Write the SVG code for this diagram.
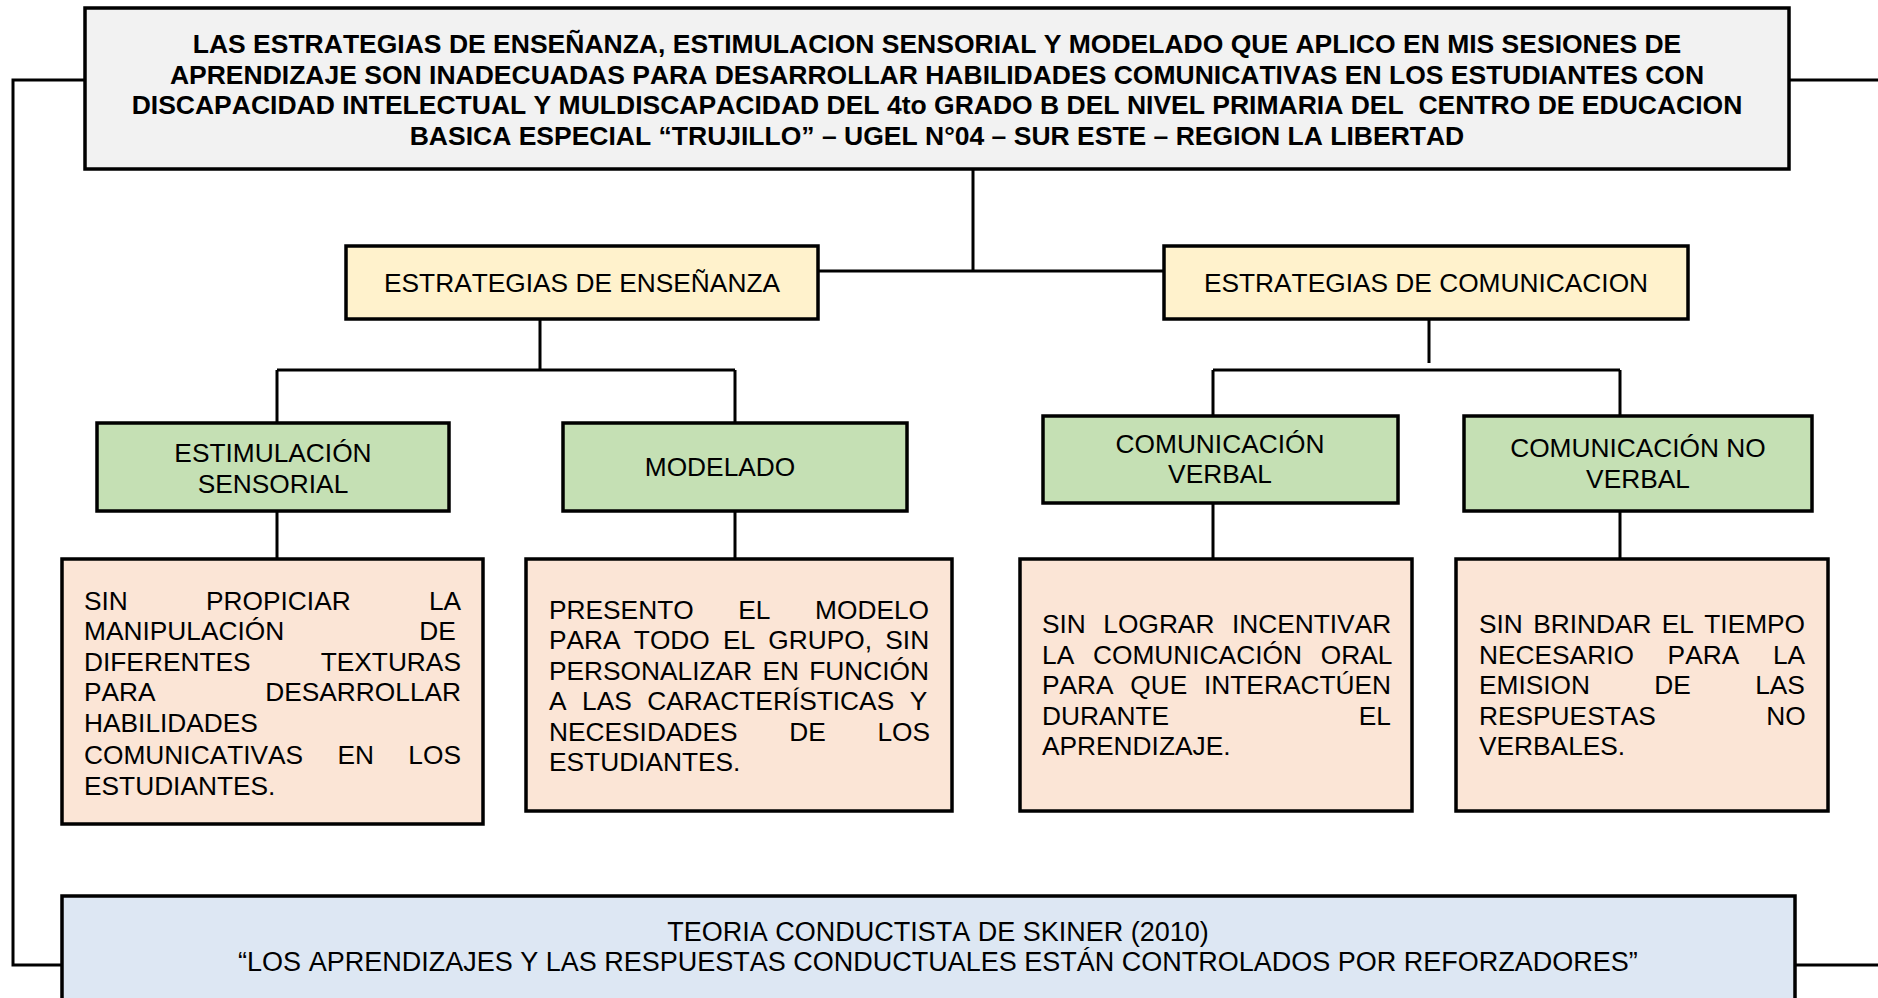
<svg xmlns="http://www.w3.org/2000/svg" width="1878" height="998" viewBox="0 0 1878 998">
<style>
text{font-family:"Liberation Sans",Arial,sans-serif;font-size:26.3px;fill:#000;font-kerning:none}
.c{text-anchor:middle}
.b{font-weight:bold;font-size:26.5px}
.box{stroke:#000;stroke-width:3.5}
.conn{fill:none;stroke:#000;stroke-width:3}
.gray{fill:#f2f2f2}.yel{fill:#fff2cc}.grn{fill:#c5e0b4}.pch{fill:#fbe5d6}.blu{fill:#dde7f3}
</style>
<rect width="1878" height="998" fill="#fff"/>
<g id="connectors">
<path class="conn" d="M85,80H13V965H62"/>
<path class="conn" d="M1789,80H1878"/>
<path class="conn" d="M1795,965H1878"/>
<path class="conn" d="M973,169V271M818,271H1164"/>
<path class="conn" d="M540,319V370M277,370H735M277,370V423M735,370V423"/>
<path class="conn" d="M1429,319V363M1213,370H1620M1213,370V416M1620,370V416"/>
<path class="conn" d="M277,511V559M735,511V559M1213,503V559M1620,511V559"/>
</g>
<g id="title">
<rect class="box gray" x="85" y="8" width="1704" height="161"/>
<text class="c b" x="937" y="53">LAS ESTRATEGIAS DE ENSEÑANZA, ESTIMULACION SENSORIAL Y MODELADO QUE APLICO EN MIS SESIONES DE</text>
<text class="c b" x="937" y="83.5">APRENDIZAJE SON INADECUADAS PARA DESARROLLAR HABILIDADES COMUNICATIVAS EN LOS ESTUDIANTES CON</text>
<text class="c b" x="937" y="114" xml:space="preserve">DISCAPACIDAD INTELECTUAL Y MULDISCAPACIDAD DEL 4to GRADO B DEL NIVEL PRIMARIA DEL  CENTRO DE EDUCACION</text>
<text class="c b" x="937" y="144.5">BASICA ESPECIAL “TRUJILLO” – UGEL N°04 – SUR ESTE – REGION LA LIBERTAD</text>
</g>
<g id="ensenanza">
<rect class="box yel" x="346" y="246" width="472" height="73"/>
<text class="c" x="582" y="292">ESTRATEGIAS DE ENSEÑANZA</text>
</g>
<g id="comunicacion">
<rect class="box yel" x="1164" y="246" width="524" height="73"/>
<text class="c" x="1426" y="292">ESTRATEGIAS DE COMUNICACION</text>
</g>
<g id="estimulacion">
<rect class="box grn" x="97" y="423" width="352" height="88"/>
<text class="c" x="273" y="462">ESTIMULACIÓN</text>
<text class="c" x="273" y="493">SENSORIAL</text>
</g>
<g id="modelado">
<rect class="box grn" x="563" y="423" width="344" height="88"/>
<text class="c" x="720" y="476">MODELADO</text>
</g>
<g id="verbal">
<rect class="box grn" x="1043" y="416" width="355" height="87"/>
<text class="c" x="1220" y="453">COMUNICACIÓN</text>
<text class="c" x="1220" y="483">VERBAL</text>
</g>
<g id="noverbal">
<rect class="box grn" x="1464" y="416" width="348" height="95"/>
<text class="c" x="1638" y="457">COMUNICACIÓN NO</text>
<text class="c" x="1638" y="488">VERBAL</text>
</g>
<g id="p1">
<rect class="box pch" x="62" y="559" width="421" height="265"/>
<text x="84" y="610" word-spacing="70.9">SIN PROPICIAR LA</text>
<text x="84" y="640" word-spacing="127.7">MANIPULACIÓN DE</text>
<text x="84" y="671" word-spacing="62.8">DIFERENTES TEXTURAS</text>
<text x="84" y="701" word-spacing="102.3">PARA DESARROLLAR</text>
<text x="84" y="732">HABILIDADES</text>
<text x="84" y="764" word-spacing="27">COMUNICATIVAS EN LOS</text>
<text x="84" y="795">ESTUDIANTES.</text>
</g>
<g id="p2">
<rect class="box pch" x="526" y="559" width="426" height="252"/>
<text x="549" y="619" word-spacing="37.3">PRESENTO EL MODELO</text>
<text x="549" y="649" word-spacing="5.9">PARA TODO EL GRUPO, SIN</text>
<text x="549" y="680" word-spacing="3">PERSONALIZAR EN FUNCIÓN</text>
<text x="549" y="710" word-spacing="8.2">A LAS CARACTERÍSTICAS Y</text>
<text x="549" y="741" word-spacing="44.4">NECESIDADES DE LOS</text>
<text x="549" y="771">ESTUDIANTES.</text>
</g>
<g id="p3">
<rect class="box pch" x="1020" y="559" width="392" height="252"/>
<text x="1042" y="633" word-spacing="10.2">SIN LOGRAR INCENTIVAR</text>
<text x="1042" y="664" word-spacing="11.5">LA COMUNICACIÓN ORAL</text>
<text x="1042" y="694" word-spacing="9.4">PARA QUE INTERACTÚEN</text>
<text x="1042" y="725" word-spacing="182.4">DURANTE EL</text>
<text x="1042" y="755">APRENDIZAJE.</text>
</g>
<g id="p4">
<rect class="box pch" x="1456" y="559" width="372" height="252"/>
<text x="1479" y="633" word-spacing="3">SIN BRINDAR EL TIEMPO</text>
<text x="1479" y="664" word-spacing="26.4">NECESARIO PARA LA</text>
<text x="1479" y="694" word-spacing="57">EMISION DE LAS</text>
<text x="1479" y="725" word-spacing="103.2">RESPUESTAS NO</text>
<text x="1479" y="755">VERBALES.</text>
</g>
<g id="teoria">
<rect class="box blu" x="62" y="896" width="1733" height="120"/>
<text class="c" x="938" y="941" style="font-size:27px">TEORIA CONDUCTISTA DE SKINER (2010)</text>
<text class="c" x="938" y="971" style="font-size:27px">“LOS APRENDIZAJES Y LAS RESPUESTAS CONDUCTUALES ESTÁN CONTROLADOS POR REFORZADORES”</text>
</g>
</svg>
